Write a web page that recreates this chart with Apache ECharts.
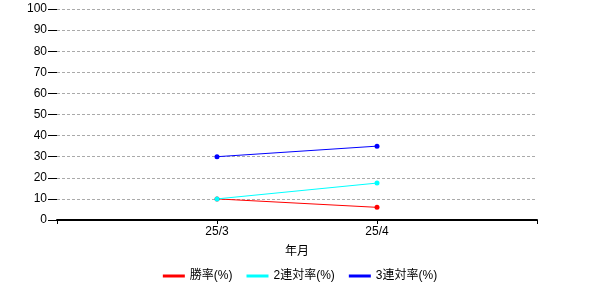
<!DOCTYPE html>
<html><head><meta charset="utf-8">
<script src="https://cdn.jsdelivr.net/npm/echarts@6/dist/echarts.min.js"></script>
<style>html,body{margin:0;padding:0;background:#fff}#c{width:600px;height:300px}</style>
</head><body><div id="c"></div>
<script>
const categories = ['', '25/3', '25/4', ''];
const winRate = [null, 10, 6, null];
const quinellaRate = [null, 10, 17.5, null];
const showRate = [null, 30, 35, null];
const yTicks = [0, 10, 20, 30, 40, 50, 60, 70, 80, 90, 100];

const FONT = 'Liberation Sans, "Noto Sans CJK JP", sans-serif';
const chart = echarts.init(document.getElementById('c'), null, {renderer: 'canvas'});
function mk(name, data, color) {
  return {
    name, type: 'line', data, color,
    symbol: 'circle', symbolSize: 5, showSymbol: true,
    lineStyle: {width: 1, color}, itemStyle: {color},
    emphasis: {disabled: true}, animation: false, connectNulls: false
  };
}
chart.setOption({
  animation: false,
  textStyle: {fontFamily: FONT, color: '#000'},
  grid: {left: 57, right: 63, top: 9, bottom: 80, containLabel: false},
  legend: {
    bottom: 13, left: 'center', itemGap: 14, itemWidth: 22, itemHeight: 3,
    icon: 'rect',
    textStyle: {fontFamily: FONT, fontSize: 12, color: '#000'},
    data: ['勝率(%)', '2連対率(%)', '3連対率(%)']
  },
  xAxis: {
    type: 'category', data: categories, boundaryGap: false,
    name: '年月', nameLocation: 'middle', nameGap: 26,
    nameTextStyle: {fontFamily: FONT, fontSize: 12, color: '#000'},
    axisLine: {show: true, lineStyle: {color: '#000', width: 2}},
    axisTick: {show: true, length: 4, lineStyle: {color: '#000', width: 1}, alignWithLabel: true, interval: 0},
    axisLabel: {fontFamily: FONT, fontSize: 12, color: '#000', interval: 0, margin: 6},
    splitLine: {show: false}
  },
  yAxis: {
    type: 'value', min: yTicks[0], max: yTicks[yTicks.length - 1], interval: 10,
    axisLine: {show: false},
    axisTick: {show: true, inside: false, length: 9, lineStyle: {color: '#000', width: 1}},
    axisLabel: {fontFamily: FONT, fontSize: 12, color: '#000', margin: 10},
    splitLine: {show: true, lineStyle: {color: '#aaa', type: [3, 2], width: 1}}
  },
  series: [
    mk('勝率(%)', winRate, '#ff0000'),
    mk('2連対率(%)', quinellaRate, '#00ffff'),
    mk('3連対率(%)', showRate, '#0000ff')
  ]
});
</script></body></html>
